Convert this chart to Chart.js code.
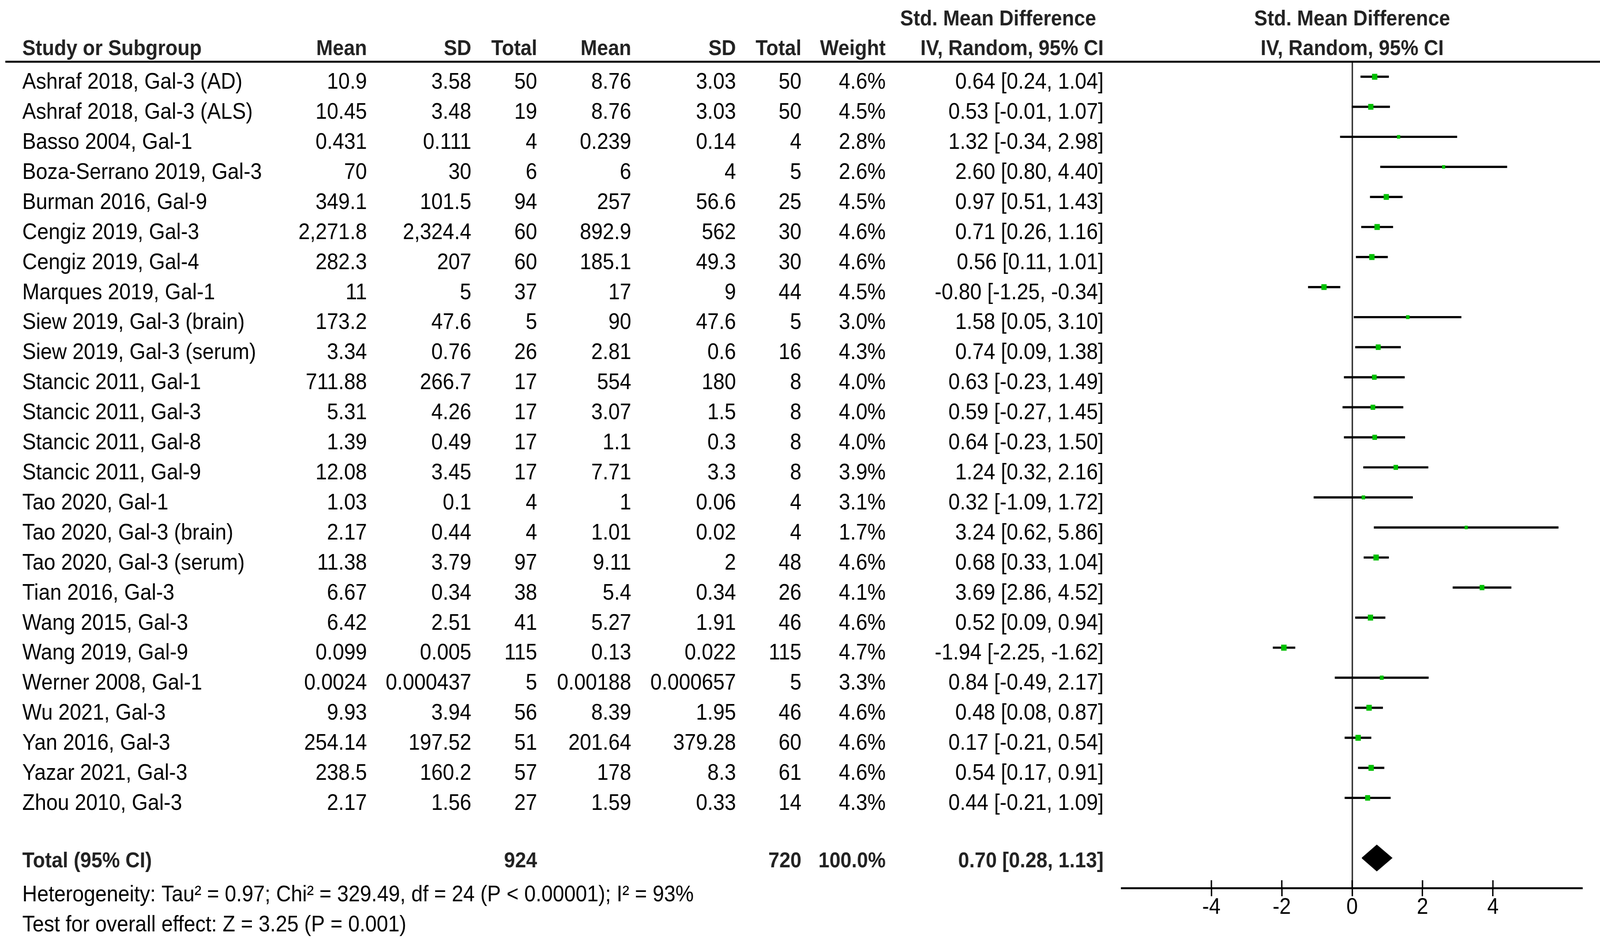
<!DOCTYPE html>
<html>
<head>
<meta charset="utf-8">
<script src="https://cdn.jsdelivr.net/npm/chart.js@4.4.1/dist/chart.umd.min.js"></script>
<style>
  html, body { margin: 0; padding: 0; background: #fff; overflow: hidden; }
  /* the board is drawn at 4522 x 2406 and stretched to fill the window */
  #forest { display: block; width: 100vw !important; height: 100vh !important; }
</style>
</head>
<body>
<canvas id="forest" width="4522" height="2406"></canvas>
<script>
// --- data ---
const studies = [
  'Ashraf 2018, Gal-3 (AD)', 'Ashraf 2018, Gal-3 (ALS)', 'Basso 2004, Gal-1', 'Boza-Serrano 2019, Gal-3',
  'Burman 2016, Gal-9', 'Cengiz 2019, Gal-3', 'Cengiz 2019, Gal-4', 'Marques 2019, Gal-1',
  'Siew 2019, Gal-3 (brain)', 'Siew 2019, Gal-3 (serum)', 'Stancic 2011, Gal-1', 'Stancic 2011, Gal-3',
  'Stancic 2011, Gal-8', 'Stancic 2011, Gal-9', 'Tao 2020, Gal-1', 'Tao 2020, Gal-3 (brain)',
  'Tao 2020, Gal-3 (serum)', 'Tian 2016, Gal-3', 'Wang 2015, Gal-3', 'Wang 2019, Gal-9',
  'Werner 2008, Gal-1', 'Wu 2021, Gal-3', 'Yan 2016, Gal-3', 'Yazar 2021, Gal-3', 'Zhou 2010, Gal-3'
];
const expMean = ['10.9', '10.45', '0.431', '70', '349.1', '2,271.8', '282.3', '11', '173.2', '3.34', '711.88', '5.31',
  '1.39', '12.08', '1.03', '2.17', '11.38', '6.67', '6.42', '0.099', '0.0024', '9.93', '254.14', '238.5', '2.17'];
const expSD = ['3.58', '3.48', '0.111', '30', '101.5', '2,324.4', '207', '5', '47.6', '0.76', '266.7', '4.26',
  '0.49', '3.45', '0.1', '0.44', '3.79', '0.34', '2.51', '0.005', '0.000437', '3.94', '197.52', '160.2', '1.56'];
const expTotal = [50, 19, 4, 6, 94, 60, 60, 37, 5, 26, 17, 17, 17, 17, 4, 4, 97, 38, 41, 115, 5, 56, 51, 57, 27];
const ctrlMean = ['8.76', '8.76', '0.239', '6', '257', '892.9', '185.1', '17', '90', '2.81', '554', '3.07',
  '1.1', '7.71', '1', '1.01', '9.11', '5.4', '5.27', '0.13', '0.00188', '8.39', '201.64', '178', '1.59'];
const ctrlSD = ['3.03', '3.03', '0.14', '4', '56.6', '562', '49.3', '9', '47.6', '0.6', '180', '1.5',
  '0.3', '3.3', '0.06', '0.02', '2', '0.34', '1.91', '0.022', '0.000657', '1.95', '379.28', '8.3', '0.33'];
const ctrlTotal = [50, 50, 4, 5, 25, 30, 30, 44, 5, 16, 8, 8, 8, 8, 4, 4, 48, 26, 46, 115, 5, 46, 60, 61, 14];
const weights = [4.6, 4.5, 2.8, 2.6, 4.5, 4.6, 4.6, 4.5, 3.0, 4.3, 4.0, 4.0, 4.0, 3.9, 3.1, 1.7, 4.6, 4.1, 4.6, 4.7,
  3.3, 4.6, 4.6, 4.6, 4.3];
const smd = [0.64, 0.53, 1.32, 2.60, 0.97, 0.71, 0.56, -0.80, 1.58, 0.74, 0.63, 0.59, 0.64, 1.24, 0.32, 3.24,
  0.68, 3.69, 0.52, -1.94, 0.84, 0.48, 0.17, 0.54, 0.44];
const ciLow = [0.24, -0.01, -0.34, 0.80, 0.51, 0.26, 0.11, -1.25, 0.05, 0.09, -0.23, -0.27, -0.23, 0.32, -1.09,
  0.62, 0.33, 2.86, 0.09, -2.25, -0.49, 0.08, -0.21, 0.17, -0.21];
const ciHigh = [1.04, 1.07, 2.98, 4.40, 1.43, 1.16, 1.01, -0.34, 3.10, 1.38, 1.49, 1.45, 1.50, 2.16, 1.72, 5.86,
  1.04, 4.52, 0.94, -1.62, 2.17, 0.87, 0.54, 0.91, 1.09];
const totalN = [924, 720];
const pooled = [0.70, 0.28, 1.13];   // estimate, low, high
const xTicks = [-4, -2, 0, 2, 4];
const heterogeneity = 'Heterogeneity: Tau\u00b2 = 0.97; Chi\u00b2 = 329.49, df = 24 (P < 0.00001); I\u00b2 = 93%';
const overallTest = 'Test for overall effect: Z = 3.25 (P = 0.001)';

// --- layout, in board pixels ---
const W = 4522;
const HT = 2406;
const FONT = "'Liberation Sans', Arial, sans-serif";
const FS = 58;      // regular text
const FSB = 56;     // bold text
const TOTAL_ROW = 26;
const fmt = v => v.toFixed(2);
const ciText = (e, l, h) => fmt(e) + ' [' + fmt(l) + ', ' + fmt(h) + ']';

const tablePlugin = {
  id: 'table',
  afterDraw(chart) {
    const ctx = chart.ctx;
    const ys = chart.scales.y;
    const xs = chart.scales.x;
    const area = chart.chartArea;

    function txt(s, x, yc, align, bold) {
      const size = bold ? FSB : FS;
      ctx.font = (bold ? 'bold ' : '') + size + 'px ' + FONT;
      ctx.fillStyle = bold ? '#222' : '#000';
      ctx.textAlign = align;
      ctx.textBaseline = 'alphabetic';
      ctx.fillText(s, x, yc + 0.358 * size);
    }

    ctx.save();
    // header
    const zx = xs.getPixelForValue(0);
    txt('Std. Mean Difference', 3098, 45, 'right', true);
    txt('Std. Mean Difference', zx, 45, 'center', true);
    const hy = 121;
    txt('Study or Subgroup', 63, hy, 'left', true);
    txt('Mean', 1037, hy, 'right', true);
    txt('SD', 1332, hy, 'right', true);
    txt('Total', 1518, hy, 'right', true);
    txt('Mean', 1784, hy, 'right', true);
    txt('SD', 2080, hy, 'right', true);
    txt('Total', 2265, hy, 'right', true);
    txt('Weight', 2503, hy, 'right', true);
    txt('IV, Random, 95% CI', 3119, hy, 'right', true);
    txt('IV, Random, 95% CI', zx, hy, 'center', true);

    ctx.fillStyle = '#000';
    ctx.fillRect(15, area.top - 2.5, W - 15, 5);

    // study rows
    studies.forEach((s, i) => {
      const yc = ys.getPixelForValue(i) + 10;
      txt(s, 63, yc, 'left', false);
      txt(expMean[i], 1037, yc, 'right', false);
      txt(expSD[i], 1332, yc, 'right', false);
      txt(String(expTotal[i]), 1518, yc, 'right', false);
      txt(ctrlMean[i], 1784, yc, 'right', false);
      txt(ctrlSD[i], 2080, yc, 'right', false);
      txt(String(ctrlTotal[i]), 2265, yc, 'right', false);
      txt(weights[i].toFixed(1) + '%', 2503, yc, 'right', false);
      txt(ciText(smd[i], ciLow[i], ciHigh[i]), 3119, yc, 'right', false);
    });

    // total row
    const ty = ys.getPixelForValue(TOTAL_ROW) + 4;
    txt('Total (95% CI)', 63, ty, 'left', true);
    txt(String(totalN[0]), 1518, ty, 'right', true);
    txt(String(totalN[1]), 2265, ty, 'right', true);
    txt('100.0%', 2503, ty, 'right', true);
    txt(ciText(pooled[0], pooled[1], pooled[2]), 3119, ty, 'right', true);

    txt(heterogeneity, 63, 2286, 'left', false);
    txt(overallTest, 63, 2363, 'left', false);

    // upper half of the axis ticks (they cross the axis line)
    ctx.strokeStyle = '#000';
    ctx.lineWidth = 4;
    xs.ticks.forEach(t => {
      const px = xs.getPixelForValue(t.value);
      ctx.beginPath();
      ctx.moveTo(px, area.bottom - 20);
      ctx.lineTo(px, area.bottom);
      ctx.stroke();
    });
    ctx.restore();
  }
};

const DH = 0.43;  // half height of the pooled diamond, in row units
const diamond = [
  { x: pooled[1], y: TOTAL_ROW }, { x: pooled[0], y: TOTAL_ROW - DH },
  { x: pooled[2], y: TOTAL_ROW }, { x: pooled[0], y: TOTAL_ROW + DH }, { x: pooled[1], y: TOTAL_ROW }
];

new Chart(document.getElementById('forest'), {
  type: 'scatter',
  data: {
    datasets: [
      {
        type: 'scatter',
        data: studies.map((s, i) => ({ x: smd[i], y: i })),
        pointStyle: 'rect',
        pointRadius: weights.map(w => Math.max(9, 3.3 * w) / Math.SQRT2),
        pointBackgroundColor: '#00c000',
        pointBorderWidth: 0,
        order: 0
      },
      {
        type: 'bar',
        indexAxis: 'y',
        data: studies.map((s, i) => ({ x: [ciLow[i], ciHigh[i]], y: i })),
        backgroundColor: '#000',
        borderWidth: 0,
        barThickness: 5,
        order: 1
      },
      {
        type: 'scatter',
        data: diamond,
        showLine: true,
        borderColor: '#000',
        borderWidth: 2,
        backgroundColor: '#000',
        fill: 'shape',
        pointRadius: 0,
        tension: 0,
        order: 2
      }
    ]
  },
  options: {
    responsive: false,
    animation: false,
    devicePixelRatio: 1,
    layout: { padding: { left: 3170, right: W - 4473, top: 158, bottom: 0 } },
    plugins: { legend: { display: false }, tooltip: { enabled: false } },
    scales: {
      x: {
        type: 'linear',
        min: -6.55,
        max: 6.55,
        offset: false,
        afterFit: s => { s.height = HT - 2273; },
        afterBuildTicks: s => { s.ticks = xTicks.map(v => ({ value: v })); },
        grid: {
          drawOnChartArea: true,
          color: c => (c.tick && c.tick.value === 0 ? '#333' : 'rgba(0,0,0,0)'),
          lineWidth: c => (c.tick && c.tick.value === 0 ? 4 : 0),
          drawTicks: true,
          tickLength: 21,
          tickColor: '#000',
          tickWidth: 4
        },
        border: { display: true, color: '#000', width: 5 },
        ticks: {
          color: '#000',
          font: { family: FONT, size: FS, lineHeight: 1 },
          padding: 0,
          maxRotation: 0,
          autoSkip: false
        }
      },
      y: { type: 'linear', reverse: true, min: -0.5, max: 27, offset: false, display: false }
    }
  },
  plugins: [tablePlugin]
});
</script>
</body>
</html>
